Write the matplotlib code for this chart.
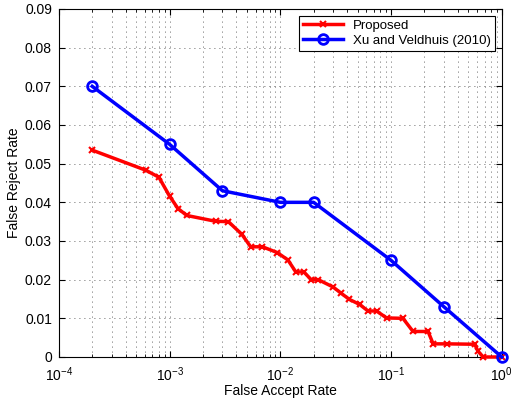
import matplotlib
matplotlib.use("Agg")
import matplotlib.pyplot as plt
from matplotlib.ticker import LogLocator, FuncFormatter, NullFormatter

plt.rcParams['font.family'] = ['Liberation Sans', 'DejaVu Sans']
plt.rcParams['mathtext.fontset'] = 'custom'
plt.rcParams['mathtext.rm'] = 'Liberation Sans'

# Proposed method
prop_far = [2.0e-4, 6.1e-4, 8.0e-4, 1.0e-3, 1.19e-3, 1.43e-3, 2.6e-3, 3.4e-3,
            4.5e-3, 5.4e-3, 6.9e-3, 9.4e-3, 1.17e-2, 1.38e-2, 1.63e-2, 1.9e-2,
            2.2e-2, 3.0e-2, 3.5e-2, 4.2e-2, 5.2e-2, 6.2e-2, 7.4e-2, 9.1e-2,
            0.128, 0.158, 0.216, 0.24, 0.32, 0.57, 0.61, 0.68, 1.0]
prop_frr = [0.0535, 0.0483, 0.0465, 0.0416, 0.0384, 0.0366, 0.0351, 0.0350,
            0.0317, 0.0285, 0.0285, 0.0270, 0.0251, 0.0220, 0.0220, 0.0200,
            0.0200, 0.0181, 0.0166, 0.0149, 0.0136, 0.0119, 0.0119, 0.0101,
            0.0100, 0.0066, 0.0066, 0.0034, 0.0034, 0.0033, 0.0015, 0.0, 0.0]

# Xu and Veldhuis (2010)
xu_far = [2e-4, 1e-3, 3e-3, 1e-2, 2e-2, 1e-1, 3e-1, 1.0]
xu_frr = [0.070, 0.055, 0.043, 0.040, 0.040, 0.025, 0.013, 0.0]

y_ticks = [0, 0.01, 0.02, 0.03, 0.04, 0.05, 0.06, 0.07, 0.08, 0.09]

fig = plt.figure(figsize=(5.12, 4.0), dpi=100)
ax = fig.add_axes([0.115, 0.1075, 0.865, 0.87])

ax.plot(prop_far, prop_frr, color='red', linewidth=2.5, marker='x',
        markersize=4, markeredgewidth=1.5, label='Proposed', clip_on=False, zorder=3)
ax.plot(xu_far, xu_frr, color='blue', linewidth=2.5, marker='o',
        markersize=7, markerfacecolor='none', markeredgewidth=2,
        label='Xu and Veldhuis (2010)', clip_on=False, zorder=4)

ax.set_xscale('log')
ax.set_xlim(1e-4, 1)
ax.set_ylim(0, 0.09)
ax.set_yticks(y_ticks)
ax.yaxis.set_major_formatter(FuncFormatter(lambda v, p: '0' if v == 0 else '%g' % round(v, 2)))
ax.xaxis.set_major_locator(LogLocator(base=10, numticks=10))
ax.xaxis.set_minor_locator(LogLocator(base=10, subs=range(2, 10), numticks=10))
ax.xaxis.set_minor_formatter(NullFormatter())

grid_style = dict(color='#333333', linestyle=(0, (1, 5)), linewidth=0.6)
ax.grid(True, which='major', **grid_style)
ax.grid(True, which='minor', axis='x', **grid_style)
ax.set_axisbelow(True)
ax.tick_params(which='both', direction='in', top=True, right=True, labelsize=10)
ax.tick_params(which='major', length=4)
ax.tick_params(which='minor', length=2)
ax.tick_params(axis='x', pad=6)
ax.tick_params(axis='y', pad=5)

ax.set_xlabel('False Accept Rate', fontsize=10, labelpad=0)
ax.set_ylabel('False Reject Rate', fontsize=10, labelpad=3)

leg = ax.legend(loc='upper right', fontsize=9.5, fancybox=False, framealpha=1,
                edgecolor='k', borderaxespad=0.5, handlelength=3,
                borderpad=0.3, labelspacing=0.2)
leg.get_frame().set_linewidth(0.8)
leg.set_zorder(5)

fig.savefig('out.png', dpi=100)
